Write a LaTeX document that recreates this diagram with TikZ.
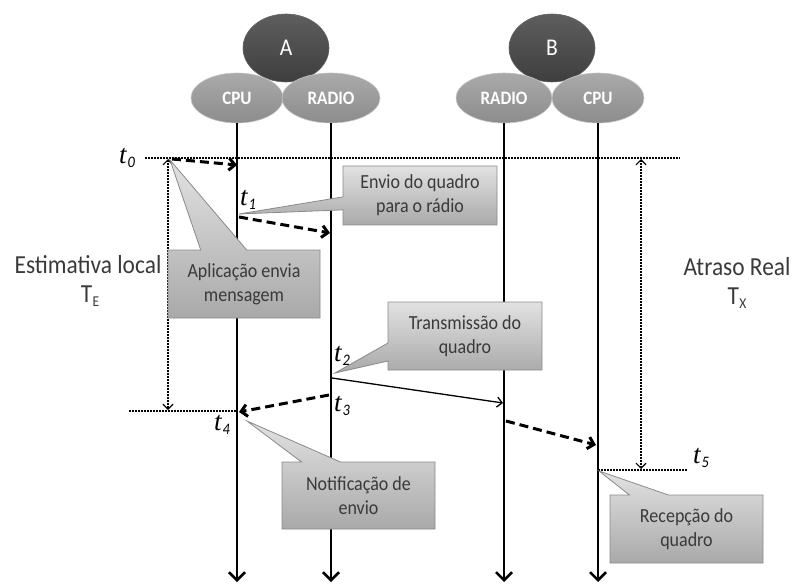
\documentclass[tikz,border=0pt]{standalone}
\usepackage{fontspec}
\setmainfont{Carlito}[FakeStretch=0.9]
\newfontfamily\tfont{Liberation Serif}
\usetikzlibrary{shapes.geometric,shapes.callouts,arrows.meta}
\definecolor{txtgray}{HTML}{3A3A3A}
\definecolor{boxtop}{HTML}{E2E2E2}
\definecolor{boxbot}{HTML}{A9A9A9}
\definecolor{boxline}{HTML}{8A8A8A}
\definecolor{darktop}{HTML}{5E5E5E}
\definecolor{darkbot}{HTML}{3E3E3E}
\definecolor{midtop}{HTML}{AAAAAA}
\definecolor{midbot}{HTML}{8C8C8C}
\newcommand{\tlab}[1]{{\tfont\fontsize{27}{27}\selectfont\itshape t}\kern1pt\raisebox{-4pt}{\fontsize{16}{16}\selectfont\itshape #1}}
\newcommand{\Tlab}[1]{T\kern0.5pt\raisebox{-4pt}{\fontsize{15}{15}\selectfont #1}}
\begin{document}
\begin{tikzpicture}[x=1pt,y=-1pt,
  txt/.style={text=txtgray, font=\fontsize{20}{24}\selectfont, align=center},
  sidetxt/.style={text=txtgray, font=\fontsize{26}{30}\selectfont, align=center, inner sep=0pt},
  callbox/.style={rectangle callout, draw=boxline, line width=0.8pt, top color=boxtop, bottom color=boxbot, inner sep=0pt, txt},
  bigell/.style={ellipse, draw=darkbot!80!white, line width=0.6pt, top color=darktop, bottom color=darkbot, text=white, font=\fontsize{24}{24}\selectfont, minimum width=86pt, minimum height=68pt, inner sep=0pt},
  smallell/.style={ellipse, draw=midtop!70!white, line width=0.6pt, top color=midtop, bottom color=midbot, text=white, font=\fontsize{19}{19}\selectfont\bfseries, minimum height=50pt, inner sep=0pt},
  lifeline/.style={line width=2.5pt, -{Straight Barb[length=8pt,width=16pt]}},
  msgdash/.style={line width=3pt, dash pattern=on 9pt off 5pt, -{Straight Barb[length=6pt,width=12pt]}},
  msgsolid/.style={line width=1.3pt, -{Straight Barb[length=5pt,width=10pt]}},
  dotline/.style={line width=1.5pt, dash pattern=on 1.5pt off 1.5pt},
  dotarrow/.style={dotline, {Straight Barb[length=5pt,width=10pt,line width=1.2pt]}-{Straight Barb[length=5pt,width=10pt,line width=1.2pt]}},
  tlabel/.style={inner sep=0pt}
]
\useasboundingbox (0,0) rectangle (794,585);

% device ellipses
\node[bigell] (A) at (286,48) {A};
\node[bigell] (B) at (552,48) {B};
\node[smallell, minimum width=92pt] (cpuA) at (237,98) {CPU};
\node[smallell, minimum width=98pt] (radA) at (331,98) {RADIO};
\node[smallell, minimum width=96pt] (radB) at (504,98) {RADIO};
\node[smallell, minimum width=92pt] (cpuB) at (598,98) {CPU};

% lifeline ends
\coordinate (cpuAend) at (237,582);
\coordinate (radAend) at (331,582);
\coordinate (radBend) at (504,582);
\coordinate (cpuBend) at (598,582);

% event points
\coordinate (p0) at (168,158);
\coordinate (p0s) at (172,159);
\coordinate (p0e) at (237,165);
\coordinate (p1s) at (239,217);
\coordinate (p1e) at (330,233);
\coordinate (p2s) at (332,378);
\coordinate (p2e) at (503,403);
\coordinate (p3s) at (329,395);
\coordinate (p3e) at (239,412);
\coordinate (p4s) at (506,421);
\coordinate (p4e) at (596,445);
\coordinate (p5) at (598,470);

% dotted guide lines
\coordinate (topL) at (145,158);
\coordinate (topR) at (680,158);
\coordinate (botLL) at (129,411);
\coordinate (botLR) at (237,411);
\coordinate (botRR) at (687,470);
\coordinate (vLtop) at (168,159);
\coordinate (vLbot) at (168,410);
\coordinate (vRtop) at (641,159);
\coordinate (vRbot) at (641,469);

\draw[dotline] (topL) -- (topR);
\draw[dotline] (botLL) -- (botLR);
\draw[dotline] (p5) -- (botRR);
\draw[dotarrow] (vLtop) -- (vLbot);
\draw[dotarrow] (vRtop) -- (vRbot);

% lifelines
\draw[lifeline] (cpuA.south) -- (cpuAend);
\draw[lifeline] (radA.south) -- (radAend);
\draw[lifeline] (radB.south) -- (radBend);
\draw[lifeline] (cpuB.south) -- (cpuBend);

% messages
\draw[msgdash] (p0s) -- (p0e);
\draw[msgdash] (p1s) -- (p1e);
\draw[msgsolid] (p2s) -- (p2e);
\draw[msgdash] (p3s) -- (p3e);
\draw[msgdash] (p4s) -- (p4e);

% time labels
\node[tlabel] (t0) at (127,158) {\tlab{0}};
\node[tlabel] (t1) at (248,200) {\tlab{1}};
\node[tlabel] (t2) at (342,356) {\tlab{2}};
\node[tlabel] (t3) at (342,406) {\tlab{3}};
\node[tlabel] (t4) at (222,425) {\tlab{4}};
\node[tlabel] (t5) at (701,458) {\tlab{5}};

% side labels
\node[sidetxt] (estim) at (88,265) {Estimativa local};
\node[sidetxt] (TE) at (90,296) {\Tlab{E}};
\node[sidetxt] (atraso) at (737,267) {Atraso Real};
\node[sidetxt] (TX) at (737,298) {\Tlab{X}};

% callouts
\node[callbox, minimum width=152pt, minimum height=68pt, callout absolute pointer={(170,160)}, callout pointer width=46pt] (c1) at (244,284) {Aplicação envia\\mensagem};
\node[callbox, minimum width=154pt, minimum height=59pt, callout absolute pointer={(239,214)}, callout pointer width=13pt] (c2) at (420,195.5) {Envio do quadro\\para o rádio};
\node[callbox, minimum width=154pt, minimum height=68pt, callout absolute pointer={(335,373)}, callout pointer width=18pt] (c3) at (465,336) {Transmissão do\\quadro};
\node[callbox, minimum width=153pt, minimum height=67pt, callout absolute pointer={(247,421)}, callout pointer width=39pt] (c4) at (358.5,495.5) {Notificação de\\envio};
\node[callbox, minimum width=153pt, minimum height=68pt, callout absolute pointer={(599,471)}, callout pointer width=39pt] (c5) at (686.5,529) {Recepção do\\quadro};
\end{tikzpicture}
\end{document}
